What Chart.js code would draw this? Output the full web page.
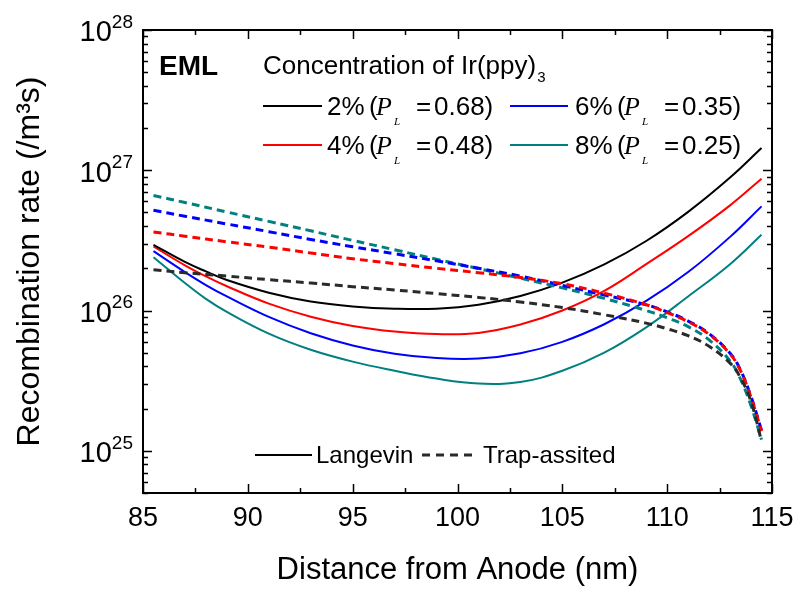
<!DOCTYPE html>
<html>
<head>
<meta charset="utf-8">
<script src="https://cdn.jsdelivr.net/npm/chart.js@4.4.1/dist/chart.umd.min.js"></script>
<style>
  html, body { margin: 0; padding: 0; background: #fff; }
</style>
</head>
<body>
<canvas id="chart" width="802" height="589"></canvas>
<script>
// Langevin (solid) curves
const solidX = [85.5, 87, 88, 89, 91, 93, 95, 97, 99, 101, 103, 105, 107, 109, 111, 113, 114.5];
const langevin2 = [2.94e26, 2.22e26, 1.90e26, 1.65e26, 1.34e26, 1.16e26, 1.07e26, 1.03e26, 1.03e26, 1.10e26, 1.27e26, 1.58e26, 2.13e26, 3.13e26, 5.05e26, 8.87e26, 1.44e27];
const langevin4 = [2.86e26, 2.10e26, 1.75e26, 1.49e26, 1.12e26, 9.04e25, 7.76e25, 7.08e25, 6.79e25, 6.92e25, 7.94e25, 1.0e26, 1.38e26, 2.14e26, 3.39e26, 5.62e26, 8.71e26];
const langevin6 = [2.65e26, 1.88e26, 1.52e26, 1.26e26, 9.0e25, 6.89e25, 5.64e25, 4.92e25, 4.58e25, 4.54e25, 4.95e25, 5.98e25, 7.98e25, 1.17e26, 1.88e26, 3.35e26, 5.53e26];
const langevin8 = [2.40e26, 1.57e26, 1.21e26, 9.77e25, 6.84e25, 5.25e25, 4.32e25, 3.72e25, 3.27e25, 3.02e25, 3.09e25, 3.72e25, 5.01e25, 7.59e25, 1.26e26, 2.14e26, 3.47e26];

// trap-assisted (dashed) curves
const trapX = [85.5, 87, 89, 91, 93, 95, 97, 99, 101, 103, 105, 107, 109, 110, 111, 112, 113, 113.5, 114, 114.5];
const trap2 = [1.95e26, 1.86e26, 1.76e26, 1.66e26, 1.57e26, 1.48e26, 1.40e26, 1.32e26, 1.24e26, 1.15e26, 1.05e26, 9.33e25, 8.13e25, 7.41e25, 6.61e25, 5.56e25, 4.22e25, 3.31e25, 2.24e25, 1.17e25];
const trap4 = [3.63e26, 3.39e26, 3.09e26, 2.83e26, 2.57e26, 2.34e26, 2.16e26, 2.0e26, 1.86e26, 1.72e26, 1.55e26, 1.33e26, 1.10e26, 9.66e25, 8.32e25, 6.76e25, 4.90e25, 3.72e25, 2.40e25, 1.38e25];
const trap6 = [5.18e26, 4.70e26, 4.14e26, 3.65e26, 3.21e26, 2.85e26, 2.54e26, 2.26e26, 2.0e26, 1.76e26, 1.51e26, 1.29e26, 1.10e26, 9.77e25, 8.41e25, 6.84e25, 4.95e25, 3.76e25, 2.43e25, 1.40e25];
const trap8 = [6.61e26, 5.89e26, 5.04e26, 4.32e26, 3.70e26, 3.16e26, 2.71e26, 2.32e26, 1.99e26, 1.70e26, 1.45e26, 1.22e26, 1.0e26, 8.87e25, 7.67e25, 6.17e25, 4.37e25, 3.24e25, 2.09e25, 1.20e25];

const concLabels = ['2%', '4%', '6%', '8%'];
const plValues = ['0.68', '0.48', '0.35', '0.25'];
const colors = ['#000000', '#ff0000', '#0000ff', '#008080'];
const xTicks = [85, 90, 95, 100, 105, 110, 115];
const yDecades = [25, 26, 27, 28];

const SANS = '"Liberation Sans", Arial, sans-serif';
const SERIF = '"Liberation Serif", "Times New Roman", serif';

function pts(xs, ys) {
    return xs.map((x, i) => ({x: x, y: ys[i]}));
}

const trapSets = [trap2, trap4, trap6, trap8];
const langSets = [langevin2, langevin4, langevin6, langevin8];

const datasets = [];
trapSets.forEach((d, i) => {
    datasets.push({
        label: concLabels[i] + ' trap',
        data: pts(trapX, d),
        borderColor: i === 0 ? '#2a2a2a' : colors[i],
        borderWidth: 3,
        borderDash: [8, 5],
        pointRadius: 0,
        tension: 0.4,
        fill: false
    });
});
langSets.forEach((d, i) => {
    datasets.push({
        label: concLabels[i] + ' Langevin',
        data: pts(solidX, d),
        borderColor: colors[i],
        borderWidth: 2,
        pointRadius: 0,
        tension: 0.4,
        fill: false
    });
});

function capText(ctx, text, x, yc, size, font) {
    ctx.font = font;
    ctx.fillText(text, x, yc + 0.358 * size);
}

// one "n% (P_L = v)" legend label, pieces placed as in the figure
function plEntry(ctx, s, yc, pct, val) {
    const base = yc + 0.358 * 26;
    ctx.font = '26px ' + SANS;
    ctx.fillText(pct, s, base);
    ctx.fillText('(', s + 42, base);
    ctx.font = 'italic 26px ' + SERIF;
    ctx.fillText('P', s + 49, base);
    ctx.font = 'italic 11px ' + SERIF;
    ctx.fillText('L', s + 67, yc + 19);
    ctx.font = '26px ' + SANS;
    ctx.fillText('=', s + 89, base);
    ctx.fillText(val + ')', s + 107, base);
}

function sample(ctx, x1, x2, y, color, width, dash) {
    ctx.save();
    ctx.strokeStyle = color;
    ctx.lineWidth = width;
    ctx.setLineDash(dash || []);
    ctx.beginPath();
    ctx.moveTo(x1, y);
    ctx.lineTo(x2, y);
    ctx.stroke();
    ctx.restore();
}

const framePlugin = {
    id: 'frame',
    afterDatasetsDraw(chart) {
        const {ctx, chartArea: a, scales: {x, y}} = chart;
        ctx.save();
        ctx.strokeStyle = '#000';
        ctx.lineWidth = 2;
        ctx.strokeRect(a.left, a.top, a.right - a.left, a.bottom - a.top);

        // inward ticks on all four sides
        ctx.lineWidth = 1.5;
        ctx.beginPath();
        for (let v = 85; v <= 115; v += 2.5) {
            const px = Math.round(x.getPixelForValue(v)) + 0.5;
            const len = v % 5 === 0 ? 9 : 5;
            ctx.moveTo(px, a.bottom); ctx.lineTo(px, a.bottom - len);
            ctx.moveTo(px, a.top); ctx.lineTo(px, a.top + len);
        }
        for (let e = 24; e <= 28; e++) {
            for (let m = 1; m <= 9; m++) {
                const v = m * Math.pow(10, e);
                if (v < y.min * 0.999 || v > y.max * 1.001) continue;
                const py = Math.round(y.getPixelForValue(v)) + 0.5;
                const len = m === 1 ? 9 : 5;
                ctx.moveTo(a.left, py); ctx.lineTo(a.left + len, py);
                ctx.moveTo(a.right, py); ctx.lineTo(a.right - len, py);
            }
        }
        ctx.stroke();

        // y tick labels 10^n
        ctx.fillStyle = '#000';
        ctx.textAlign = 'left';
        ctx.textBaseline = 'alphabetic';
        yDecades.forEach(e => {
            const py = y.getPixelForValue(Math.pow(10, e));
            ctx.font = '19px ' + SANS;
            const sw = ctx.measureText(String(e)).width;
            ctx.font = '29px ' + SANS;
            const bw = ctx.measureText('10').width;
            const right = 133;
            ctx.fillText('10', right - sw - bw, py + 1 + 0.358 * 29);
            ctx.font = '19px ' + SANS;
            ctx.fillText(String(e), right - sw, py - 9 + 0.358 * 19);
        });

        // legend
        capText(ctx, 'EML', 159, 65, 28, 'bold 28px ' + SANS);
        capText(ctx, 'Concentration of Ir(ppy)', 263, 65, 26, '26px ' + SANS);
        ctx.font = '26px ' + SANS;
        const cw = ctx.measureText('Concentration of Ir(ppy)').width;
        capText(ctx, '3', 263 + cw + 1, 77, 15, '15px ' + SANS);

        const cols = [[263, 322, 327], [510, 568, 575]];
        const rows = [106, 145];
        const order = [[0, 0, 0], [1, 1, 0], [2, 0, 1], [3, 1, 1]];
        order.forEach(([i, r, c]) => {
            sample(ctx, cols[c][0], cols[c][1], rows[r], colors[i], 2);
            plEntry(ctx, cols[c][2], rows[r], concLabels[i], plValues[i]);
        });

        sample(ctx, 255, 312, 455, '#000', 2);
        capText(ctx, 'Langevin', 316, 454, 24, '24px ' + SANS);
        sample(ctx, 422, 477, 455, '#2a2a2a', 3, [8, 6]);
        capText(ctx, 'Trap-assited', 483, 454, 24, '24px ' + SANS);

        ctx.restore();
    }
};

new Chart(document.getElementById('chart'), {
    type: 'line',
    data: {datasets: datasets},
    options: {
        responsive: false,
        animation: false,
        devicePixelRatio: 1,
        layout: {padding: {top: 30, right: 30, left: 0, bottom: 0}},
        plugins: {legend: {display: false}, tooltip: {enabled: false}},
        scales: {
            x: {
                type: 'linear',
                min: 85,
                max: 115,
                afterBuildTicks(s) { s.ticks = xTicks.map(v => ({value: v})); },
                ticks: {color: '#000', font: {family: SANS, size: 27}, padding: 9, maxRotation: 0, autoSkip: false},
                grid: {display: false, drawTicks: false},
                border: {display: false},
                title: {display: true, text: 'Distance from Anode (nm)', color: '#000', font: {family: SANS, size: 31}, padding: {top: 0, bottom: 0}},
                afterFit(s) { s.height = 96; s.paddingLeft = 0; s.paddingRight = 0; }
            },
            y: {
                type: 'logarithmic',
                min: 5e24,
                max: 1e28,
                ticks: {display: false},
                grid: {display: false, drawTicks: false},
                border: {display: false},
                title: {display: true, text: 'Recombination rate (/m³s)', color: '#000', font: {family: SANS, size: 32}, padding: {top: 11, bottom: 0}},
                afterFit(s) { s.width = 143; }
            }
        }
    },
    plugins: [framePlugin]
});
</script>
</body>
</html>
